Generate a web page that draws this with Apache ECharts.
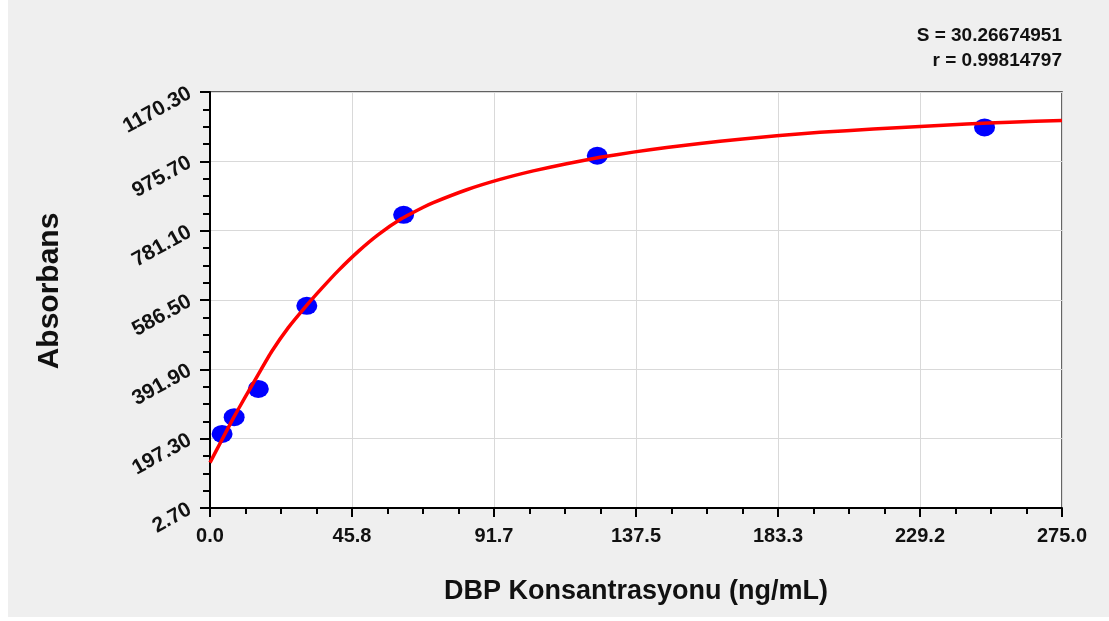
<!DOCTYPE html>
<html>
<head>
<meta charset="utf-8">
<script src="https://cdn.jsdelivr.net/npm/echarts@6/dist/echarts.min.js"></script>
<style>
html,body{margin:0;padding:0;background:#ffffff;}
#chart{width:1109px;height:621px;}
</style>
</head>
<body>
<div id="chart"></div>
<script>
// Standard points
const stdConc = [3.9, 7.8, 15.6, 31.25, 62.5, 125, 250];
const stdAbs  = [210.6, 257.5, 337.0, 570.1, 825.7, 991.4, 1070.9];
// Fitted curve
const curveX = [0, 3.78, 7.52, 11.3, 15.59, 19.91, 25.27, 30.66, 36.05, 41.41, 47.87, 54.32, 61.88, 68.85, 72.08, 82.86, 93.6, 104.35, 115.1, 125.9, 136.6, 147.4, 158.2, 171.1, 182.9, 196.9, 214.1, 229.2, 244.2, 258.2, 275];
const curveY = [130.0, 193.0, 255.0, 313.0, 378.0, 442.0, 509.0, 566.0, 619.0, 669.0, 723.0, 770.0, 815.0, 847.0, 860.0, 896.0, 925.0, 949.0, 969.0, 987.0, 1001.5, 1014.5, 1026.0, 1038.0, 1047.5, 1057.0, 1066.5, 1073.7, 1080.2, 1085.6, 1090.5];
// Tick labels
const xTickLabels = ['0.0', '45.8', '91.7', '137.5', '183.3', '229.2', '275.0'];
const yTickLabels = ['2.70', '197.30', '391.90', '586.50', '781.10', '975.70', '1170.30'];
const xRange = [0, 275];
const yRange = [2.7, 1170.3];
const statLines = ['S = 30.26674951', 'r = 0.99814797'];
const xTitle = 'DBP Konsantrasyonu (ng/mL)';
const yTitle = 'Absorbans';

const FONT = 'Liberation Sans, Arial, sans-serif';
const chart = echarts.init(document.getElementById('chart'), null, {renderer: 'canvas'});

const curveData = curveX.map((x, i) => [x, curveY[i]]);
const stdData = stdConc.map((x, i) => [x, stdAbs[i]]);

const option = {
  backgroundColor: '#ffffff',
  animation: false,
  graphic: [
    {type: 'rect', z: -10, silent: true, shape: {x: 8, y: 0, width: 1101, height: 617}, style: {fill: '#efefef'}},
    {type: 'text', right: 47, top: 26, style: {text: statLines[0], font: 'bold 19px ' + FONT, fill: '#111', textAlign: 'right'}},
    {type: 'text', right: 47, top: 51, style: {text: statLines[1], font: 'bold 19px ' + FONT, fill: '#111', textAlign: 'right'}}
  ],
  grid: {left: 210, right: 47, top: 92, bottom: 113, show: true, backgroundColor: '#ffffff', borderColor: '#333', borderWidth: 1.5},
  xAxis: [
    {type: 'value', min: xRange[0], max: xRange[1], show: false},
    {type: 'value', min: 0, max: 6, interval: 1, position: 'bottom',
     name: xTitle, nameLocation: 'middle', nameGap: 70,
     nameTextStyle: {fontFamily: FONT, fontWeight: 'bold', fontSize: 27, color: '#111'},
     axisLine: {show: true, lineStyle: {color: '#000', width: 2}},
     axisTick: {show: true, inside: false, length: 9, lineStyle: {color: '#000', width: 2}},
     minorTick: {show: true, splitNumber: 4, length: 6, lineStyle: {color: '#000', width: 2}},
     splitLine: {show: true, lineStyle: {color: '#d9d9d9', width: 1}},
     axisLabel: {margin: 18, fontFamily: FONT, fontWeight: 'bold', fontSize: 20, color: '#111',
       formatter: v => xTickLabels[Math.round(v)]}}
  ],
  yAxis: [
    {type: 'value', min: yRange[0], max: yRange[1], show: false},
    {type: 'value', min: 0, max: 6, interval: 1, position: 'left',
     name: yTitle, nameLocation: 'middle', nameGap: 145, nameRotate: 90,
     nameTextStyle: {fontFamily: FONT, fontWeight: 'bold', fontSize: 30, color: '#111', padding: [0, 0, 0, 18]},
     axisLine: {show: true, lineStyle: {color: '#000', width: 2}},
     axisTick: {show: true, inside: false, length: 10, lineStyle: {color: '#000', width: 2}},
     minorTick: {show: true, splitNumber: 4, length: 7, lineStyle: {color: '#000', width: 2}},
     splitLine: {show: true, lineStyle: {color: '#d9d9d9', width: 1}},
     axisLabel: {margin: 20, rotate: 29, fontFamily: FONT, fontWeight: 'bold', fontSize: 21, color: '#111',
       formatter: v => yTickLabels[Math.round(v)]}}
  ],
  series: [
    {type: 'scatter', xAxisIndex: 0, yAxisIndex: 0, data: stdData, symbol: 'circle', symbolSize: [21, 18],
     itemStyle: {color: '#0000ff', opacity: 1}, z: 2},
    {type: 'line', xAxisIndex: 0, yAxisIndex: 0, data: curveData, showSymbol: false, smooth: 0.15,
     lineStyle: {color: '#ff0000', width: 3.5}, z: 3}
  ]
};
chart.setOption(option);
</script>
</body>
</html>
